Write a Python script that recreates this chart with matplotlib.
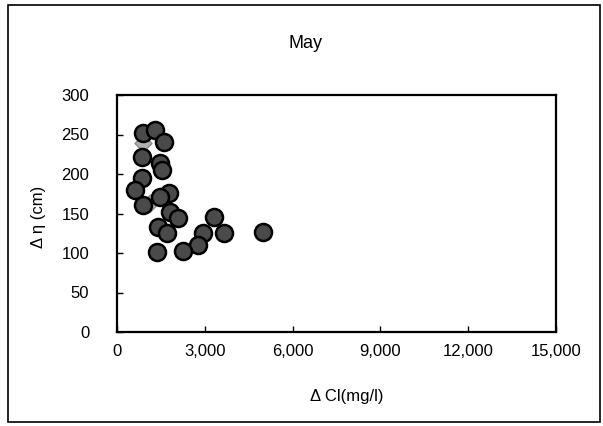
import matplotlib
matplotlib.use('Agg')
import matplotlib.pyplot as plt
from matplotlib.patches import Rectangle
from matplotlib.ticker import FuncFormatter

plt.rcParams['font.family'] = ['Liberation Sans', 'DejaVu Sans']

# data (May)
cl = [900, 1300, 1590, 850, 1470, 1530, 850, 620, 1760, 900, 1470,
      1820, 2100, 3300, 1410, 1700, 2950, 2780, 3640, 4980, 1360, 2270]
eta = [252, 256, 241, 222, 214, 205, 195, 180, 176, 161, 171,
       152, 144, 146, 133, 125, 125, 110, 125, 127, 101, 102]
# second (grey diamond) series, mostly hidden behind the circles
cl2 = [900, 1130]
eta2 = [239, 163]

xticks = [0, 3000, 6000, 9000, 12000, 15000]
yticks = [0, 50, 100, 150, 200, 250, 300]

W, H = 603, 426
fig = plt.figure(figsize=(W / 100, H / 100), dpi=100)
ax = fig.add_axes([117 / W, 1 - 332 / H, (556 - 117) / W, (332 - 95) / H])

ax.scatter(cl2, eta2, marker='D', s=75, facecolor='#b0b0b0',
           edgecolor='#8a8a8a', linewidth=1, zorder=2)
ax.scatter(cl, eta, marker='o', s=150, facecolor='#4a4a4a',
           edgecolor='black', linewidth=1.8, zorder=3)

ax.set_xlim(0, 15000)
ax.set_ylim(0, 300)
ax.set_xticks(xticks)
ax.set_yticks(yticks)
ax.xaxis.set_major_formatter(FuncFormatter(lambda v, p: f'{int(v):,}'))
ax.tick_params(axis='both', direction='in', length=4, width=1,
               labelsize=12)
ax.tick_params(axis='y', pad=20)
ax.tick_params(axis='x', pad=9)
for s in ax.spines.values():
    s.set_linewidth(1.6)

fig.text(306 / W, 1 - 43 / H, 'May', ha='center', va='center', fontsize=13)
fig.text(347 / W, 1 - 397 / H, 'Δ Cl(mg/l)', ha='center', va='center',
         fontsize=12)
fig.text(38 / W, 1 - 217 / H, 'Δ η (cm)', ha='center', va='center',
         fontsize=12, rotation=90)

# outer border of the chart area
fig.patches.append(Rectangle((8 / W, 1 - 422 / H), (600 - 8) / W,
                             (422 - 5) / H, transform=fig.transFigure,
                             fill=False, edgecolor='black', linewidth=1.2))

fig.savefig('out.png', dpi=100)
